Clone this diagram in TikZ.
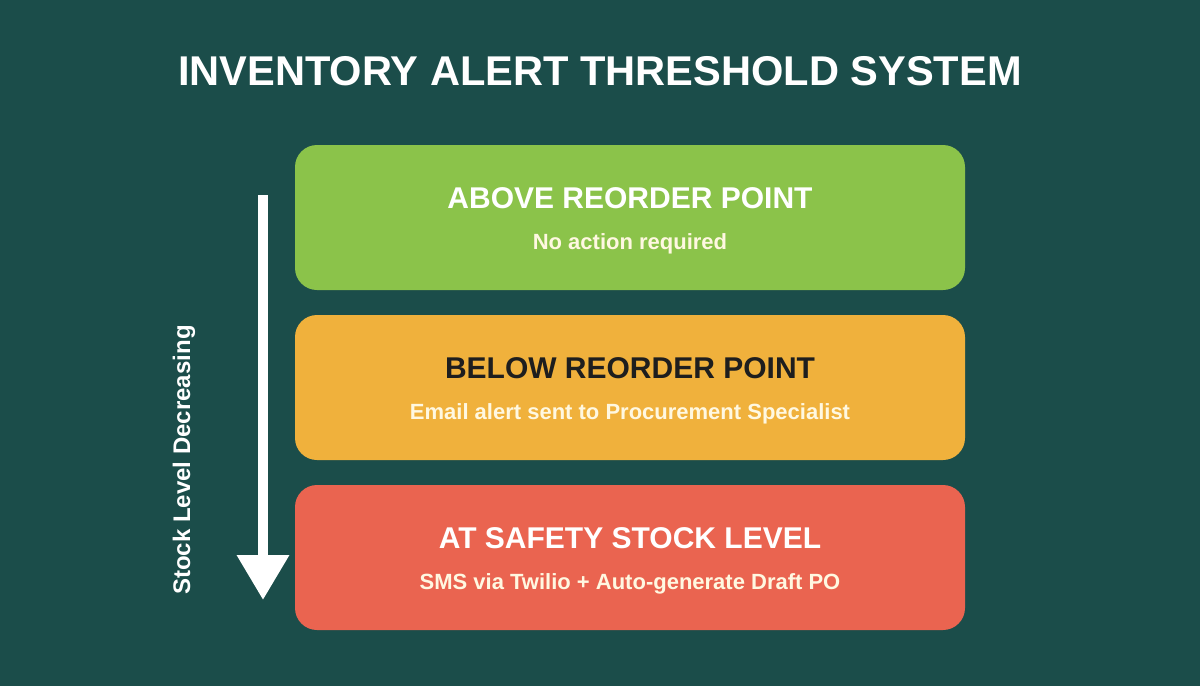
\documentclass[tikz,border=0pt]{standalone}
\usepackage{fontspec}
\setmainfont{Liberation Sans}
\usepackage{xcolor}
\usetikzlibrary{arrows.meta,positioning}
\definecolor{sfondo}{HTML}{1B4D4A}
\definecolor{verde}{HTML}{8BC34A}
\definecolor{arancio}{HTML}{F0B13C}
\definecolor{rosso}{HTML}{EA6450}
\definecolor{crema}{HTML}{FFF8E1}
\definecolor{scuro}{HTML}{1E1E1E}

\tikzset{
  livello/.style={rounded corners=22pt, minimum width=670pt, minimum height=145pt, inner sep=0pt},
  titolo/.style={font=\bfseries\fontsize{30}{34}\selectfont, inner sep=0pt},
  nota/.style={font=\bfseries\fontsize{22}{26}\selectfont, inner sep=0pt}
}

\begin{document}
\begin{tikzpicture}[x=1pt, y=-1pt]
        % Sfondo
        \fill[sfondo] (0,0) rectangle (1200,686);
        \useasboundingbox (0,0) rectangle (1200,686);

        % Titolo
        \node[white, font=\bfseries\fontsize{41.6}{48}\selectfont] (titolo) at (600,71) {INVENTORY ALERT THRESHOLD SYSTEM};

        % Livelli di scorta
        \node[livello, fill=verde] (sopra) at (630,217.5) {};
        \node[livello, fill=arancio] (sotto) at (630,387.5) {};
        \node[livello, fill=rosso] (sicurezza) at (630,557.5) {};

        % Testi dei livelli
        \node[titolo, white] (sopraT) at ([yshift=19pt]sopra.center) {ABOVE REORDER POINT};
        \node[nota, crema] (sopraN) at ([yshift=-26.5pt]sopra.center) {No action required};
        \node[titolo, scuro] (sottoT) at ([yshift=19pt]sotto.center) {BELOW REORDER POINT};
        \node[nota, crema] (sottoN) at ([yshift=-26.5pt]sotto.center) {Email alert sent to Procurement Specialist};
        \node[titolo, white] (sicurezzaT) at ([yshift=19pt]sicurezza.center) {AT SAFETY STOCK LEVEL};
        \node[nota, crema] (sicurezzaN) at ([yshift=-26.5pt]sicurezza.center) {SMS via Twilio + Auto-generate Draft PO};

        % Freccia del livello
        \coordinate (inizio) at (263,195);
        \coordinate (fine) at (263,600);
        \draw[white, line width=10pt, -{Triangle[width=50pt, length=45pt]}] (inizio) -- (fine);
        \node[white, rotate=90, font=\bfseries\fontsize{24}{28}\selectfont] (asse) at (184,460) {Stock Level Decreasing}; % Etichetta verticale
    \end{tikzpicture}
\end{document}
